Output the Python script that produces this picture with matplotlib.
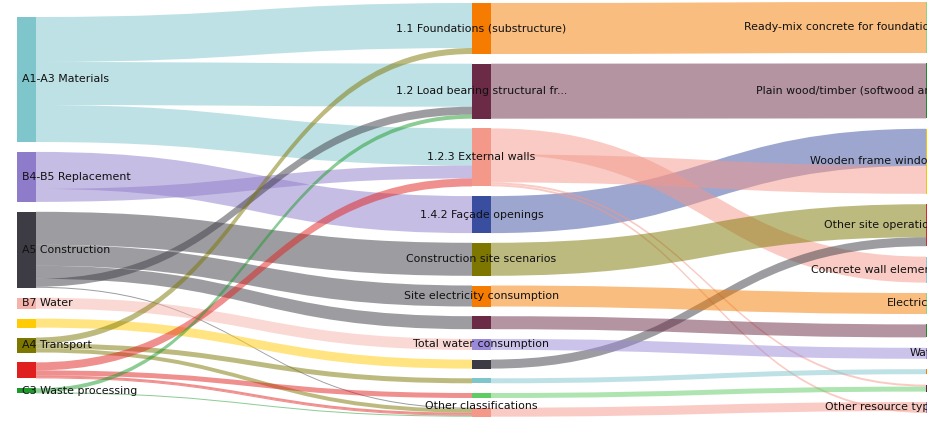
import matplotlib.pyplot as plt
from matplotlib.patches import PathPatch, Rectangle
from matplotlib.path import Path

# ---- nodes (one list per column) ----
left_ids = ["a1a3", "b4b5", "a5", "b7", "yellow", "a4", "red", "c3"]
left_labels = ["A1-A3 Materials", "B4-B5 Replacement", "A5 Construction", "B7 Water",
               "", "A4 Transport", "", "C3 Waste processing"]
left_colors = ["#7fc5cc", "#8e7ccb", "#3d3c44", "#f6b3ab",
               "#ffcb05", "#7d7700", "#e0201e", "#1d9a2b"]

mid_ids = ["found", "lb", "ew", "fac", "css", "se", "mar", "tw", "dg", "teal", "green", "oc"]
mid_labels = ["1.1 Foundations (substructure)", "1.2 Load bearing structural fr...",
              "1.2.3 External walls", "1.4.2 Façade openings", "Construction site scenarios",
              "Site electricity consumption", "", "Total water consumption", "", "", "",
              "Other classifications"]
mid_colors = ["#f57c00", "#6b2a45", "#f4988a", "#3a4ea0", "#7d7700", "#f57c00",
              "#6b2a45", "#9a88d8", "#3d3c44", "#7fc5cc", "#5fcb63", "#f4988a"]

right_ids = ["rm", "pw", "wf", "oso", "cwe", "el", "dgreen", "wat", "orange", "dmar", "ort"]
right_labels = ["Ready-mix concrete for foundations", "Plain wood/timber (softwood an...",
                "Wooden frame windows", "Other site operations", "Concrete wall elements",
                "Electricity", "", "Water", "", "", "Other resource types"]
right_colors = ["#8cd47f", "#1e8c2a", "#f5c400", "#d42a2a", "#8ccbd3", "#8cd47f",
                "#1e8c2a", "#9a88d8", "#f57c00", "#5a2440", "#8e7ccb"]

# ---- links ----
sources = ["a1a3", "a1a3", "a1a3", "b4b5", "b4b5",
           "a5", "a5", "a5", "a5", "a5", "b7", "yellow",
           "a4", "a4", "a4", "red", "red", "red", "red", "c3", "c3",
           "found", "lb", "fac", "ew", "ew", "ew", "oc", "ew",
           "css", "dg", "se", "mar", "tw", "teal", "green"]
targets = ["found", "lb", "ew", "fac", "ew",
           "css", "se", "mar", "lb", "oc", "tw", "dg",
           "found", "teal", "oc", "ew", "green", "oc", "oc", "lb", "oc",
           "rm", "pw", "wf", "cwe", "wf", "dmar", "ort", "ort",
           "oso", "oso", "el", "dgreen", "wat", "orange", "dmar"]
values = [45, 43, 37, 37, 13,
          33, 21, 13, 8, 1, 11, 9,
          6, 5, 4, 8, 5, 2, 1, 4, 1,
          51, 55, 37, 26, 28, 2, 9, 2,
          33, 9, 21, 13, 11, 5, 5]

# ---- layout ----
W, H = 928, 421
node_w = 19
col_x = [17, 472, 926]
col_top = [17, 3, 2]
col_gap = [9.9, 9.7, 10.4]
columns = [left_ids, mid_ids, right_ids]
col_labels = [left_labels, mid_labels, right_labels]
col_colors = [left_colors, mid_colors, right_colors]

inflow, outflow = {}, {}
for s, t, v in zip(sources, targets, values):
    outflow[s] = outflow.get(s, 0) + v
    inflow[t] = inflow.get(t, 0) + v

node_x, node_y, node_h, node_c = {}, {}, {}, {}
for ci, ids in enumerate(columns):
    y = col_top[ci]
    for nid, col in zip(ids, col_colors[ci]):
        h = max(inflow.get(nid, 0), outflow.get(nid, 0))
        node_x[nid], node_y[nid], node_h[nid], node_c[nid] = col_x[ci], y, h, col
        y += h + col_gap[ci]

fig = plt.figure(figsize=(W / 100, H / 100), dpi=100)
ax = fig.add_axes([0, 0, 1, 1])
ax.set_xlim(0, W)
ax.set_ylim(H, 0)
ax.axis("off")

# links
src_off = {k: 0 for k in node_x}
tgt_off = {k: 0 for k in node_x}
codes = [Path.MOVETO, Path.CURVE4, Path.CURVE4, Path.CURVE4, Path.LINETO,
         Path.CURVE4, Path.CURVE4, Path.CURVE4, Path.CLOSEPOLY]
for s, t, v in zip(sources, targets, values):
    x0 = node_x[s] + node_w
    x1 = node_x[t]
    y0 = node_y[s] + src_off[s]
    y1 = node_y[t] + tgt_off[t]
    src_off[s] += v
    tgt_off[t] += v
    xm = (x0 + x1) / 2
    verts = [(x0, y0), (xm, y0), (xm, y1), (x1, y1),
             (x1, y1 + v), (xm, y1 + v), (xm, y0 + v), (x0, y0 + v), (x0, y0)]
    ax.add_patch(PathPatch(Path(verts, codes), facecolor=node_c[s], edgecolor="none",
                           alpha=0.5, zorder=1))

# nodes
for nid in node_x:
    ax.add_patch(Rectangle((node_x[nid], node_y[nid]), node_w, node_h[nid],
                           facecolor=node_c[nid], edgecolor="none", zorder=2))

# labels (right column runs past the edge, as in the original crop)
fs = 7.9
for ci, ids in enumerate(columns):
    for nid, lab in zip(ids, col_labels[ci]):
        if not lab:
            continue
        yc = node_y[nid] + node_h[nid] / 2
        if nid == "oc":
            yc -= 6
        if ci == 0:
            ax.text(node_x[nid] + 5, yc, lab, ha="left", va="center", fontsize=fs,
                    color="#111111", zorder=3)
        elif ci == 1:
            ax.text(node_x[nid] + node_w / 2, yc, lab, ha="center", va="center",
                    fontsize=fs, color="#111111", zorder=3)
        else:
            ax.text(node_x[nid] + 16, yc, lab, ha="right", va="center", fontsize=fs,
                    color="#111111", zorder=3)

fig.savefig("out.png", dpi=100)
